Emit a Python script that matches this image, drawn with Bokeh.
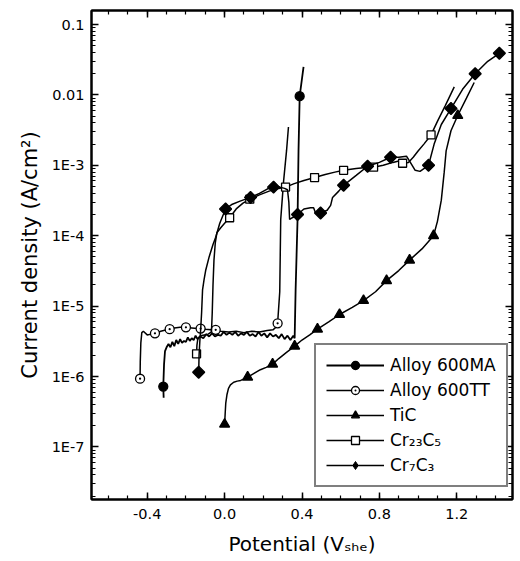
import numpy as np
from bokeh.plotting import figure
from bokeh.models import (FixedTicker, LinearAxis, LogAxis, CustomJSTickFormatter,
                          Legend, LegendItem)
from bokeh.embed import file_html
from bokeh.resources import INLINE

# ---------------- data (potential in V_SHE, current density in A/cm2) ----------------
names = ["Alloy 600MA", "Alloy 600TT", "TiC", "Cr\u2082\u2083C\u2085", "Cr\u2087C\u2083"]

ma_v = [-0.315, -0.317, -0.313, -0.308, -0.300, -0.290, -0.280, -0.270, -0.260, -0.250,
        -0.240, -0.230, -0.220, -0.210, -0.200, -0.190, -0.180, -0.170, -0.160, -0.150,
        -0.140, -0.125, -0.110, -0.095, -0.080, -0.065, -0.050, -0.035, -0.020, -0.005,
        0.010, 0.025, 0.040, 0.055, 0.070, 0.085, 0.100, 0.115, 0.130, 0.145,
        0.160, 0.175, 0.190, 0.205, 0.220, 0.235, 0.250, 0.265, 0.280, 0.295,
        0.310, 0.325, 0.340, 0.355, 0.362, 0.367, 0.377, 0.382, 0.388, 0.408]
ma_i = [5.0e-7, 7.2e-7, 1.5e-6, 2.3e-6, 2.6e-6, 2.9e-6, 2.6e-6, 3.1e-6, 2.7e-6, 3.3e-6,
        2.9e-6, 3.4e-6, 3.0e-6, 3.2e-6, 3.1e-6, 3.6e-6, 3.2e-6, 3.5e-6, 3.3e-6, 3.8e-6,
        3.4e-6, 3.7e-6, 3.5e-6, 4.0e-6, 3.7e-6, 4.1e-6, 3.7e-6, 3.9e-6, 3.8e-6, 4.3e-6,
        3.9e-6, 4.2e-6, 3.9e-6, 4.3e-6, 3.8e-6, 4.1e-6, 3.9e-6, 4.3e-6, 3.8e-6, 4.0e-6,
        3.7e-6, 4.3e-6, 3.8e-6, 4.1e-6, 3.6e-6, 4.1e-6, 3.7e-6, 3.9e-6, 3.5e-6, 4.0e-6,
        3.4e-6, 3.8e-6, 3.3e-6, 3.8e-6, 3.5e-6, 1.7e-5, 1.7e-4, 1.6e-3, 9.6e-3, 2.5e-2]
ma_marks = [-0.317, 0.388]

tt_v = [-0.437, -0.436, -0.433, -0.428, -0.420, -0.400, -0.380, -0.360, -0.330, -0.300,
        -0.284, -0.260, -0.230, -0.200, -0.170, -0.140, -0.124, -0.100, -0.070, -0.046,
        -0.020, 0.020, 0.060, 0.100, 0.140, 0.180, 0.220, 0.250, 0.265, 0.274,
        0.285, 0.290, 0.305, 0.320, 0.330]
tt_i = [9.3e-7, 1.6e-6, 3.0e-6, 4.2e-6, 4.4e-6, 3.9e-6, 4.0e-6, 4.1e-6, 4.4e-6, 4.6e-6,
        4.7e-6, 4.9e-6, 5.0e-6, 5.0e-6, 4.9e-6, 4.8e-6, 4.8e-6, 4.7e-6, 4.6e-6, 4.6e-6,
        4.4e-6, 4.3e-6, 4.4e-6, 4.2e-6, 4.4e-6, 4.3e-6, 4.5e-6, 4.6e-6, 5.0e-6, 5.7e-6,
        1.6e-5, 1.7e-4, 6.0e-4, 1.6e-3, 3.5e-3]
tt_marks = [-0.437, -0.360, -0.284, -0.200, -0.124, -0.046, 0.274]

tic_v = [0.000, 0.003, 0.006, 0.012, 0.020, 0.030, 0.047, 0.065, 0.083, 0.100,
         0.119, 0.150, 0.185, 0.215, 0.248, 0.280, 0.320, 0.362, 0.400, 0.440,
         0.480, 0.540, 0.594, 0.660, 0.718, 0.780, 0.837, 0.900, 0.956, 1.020,
         1.080, 1.100, 1.120, 1.135, 1.145, 1.170, 1.205, 1.250, 1.290]
tic_i = [2.1e-7, 3.0e-7, 4.2e-7, 5.5e-7, 6.8e-7, 7.6e-7, 8.3e-7, 8.6e-7, 8.8e-7, 9.2e-7,
         9.8e-7, 1.1e-6, 1.25e-6, 1.35e-6, 1.5e-6, 1.8e-6, 2.2e-6, 2.7e-6, 3.3e-6, 3.9e-6,
         4.7e-6, 6.0e-6, 7.6e-6, 9.6e-6, 1.2e-5, 1.6e-5, 2.3e-5, 3.2e-5, 4.5e-5, 6.5e-5,
         1.0e-4, 1.6e-4, 3.2e-4, 8.0e-4, 1.6e-3, 3.1e-3, 5.1e-3, 9.0e-3, 1.5e-2]
tic_marks = [0.000, 0.119, 0.248, 0.362, 0.480, 0.594, 0.718, 0.837, 0.956, 1.080, 1.205]

c23_v = [-0.145, -0.143, -0.138, -0.125, -0.105, -0.085, -0.068, -0.064, -0.060, -0.055,
         -0.048, -0.040, -0.020, 0.000, 0.026, 0.060, 0.095, 0.130, 0.180, 0.230,
         0.280, 0.315, 0.360, 0.410, 0.465, 0.520, 0.570, 0.615, 0.680, 0.730,
         0.770, 0.820, 0.870, 0.900, 0.920, 0.950, 0.975, 1.000, 1.030, 1.067,
         1.100, 1.140, 1.187]
c23_i = [2.1e-6, 2.8e-6, 3.5e-6, 3.8e-6, 3.9e-6, 4.0e-6, 4.3e-6, 8.0e-6, 2.0e-5, 4.5e-5,
         8.0e-5, 1.1e-4, 1.3e-4, 1.5e-4, 1.8e-4, 2.4e-4, 2.9e-4, 3.3e-4, 3.8e-4, 4.3e-4,
         4.7e-4, 4.9e-4, 5.5e-4, 6.1e-4, 6.7e-4, 7.4e-4, 8.0e-4, 8.5e-4, 9.0e-4, 9.3e-4,
         9.4e-4, 1.0e-3, 1.1e-3, 1.15e-3, 1.07e-3, 1.1e-3, 1.3e-3, 1.6e-3, 2.0e-3, 2.7e-3,
         4.2e-3, 7.0e-3, 1.3e-2]
c23_marks = [-0.145, 0.026, 0.130, 0.315, 0.465, 0.615, 0.770, 0.920, 1.067]

c7_v = [-0.134, -0.132, -0.128, -0.124, -0.119, -0.114, -0.106, -0.098, -0.080, -0.060,
        -0.046, -0.025, 0.005, 0.040, 0.080, 0.134, 0.180, 0.220, 0.253, 0.285,
        0.310, 0.325, 0.332, 0.336, 0.350, 0.377, 0.410, 0.444, 0.460, 0.470,
        0.496, 0.530, 0.548, 0.558, 0.590, 0.615, 0.680, 0.739, 0.800, 0.858,
        0.900, 0.940, 0.960, 0.985, 1.010, 1.054, 1.083, 1.120, 1.170, 1.230,
        1.295, 1.360, 1.420]
c7_i = [1.15e-6, 2.0e-6, 3.2e-6, 4.5e-6, 8.0e-6, 1.7e-5, 2.4e-5, 3.2e-5, 5.0e-5, 7.5e-5,
        9.5e-5, 1.5e-4, 2.4e-4, 2.8e-4, 3.1e-4, 3.5e-4, 4.0e-4, 4.6e-4, 4.9e-4, 4.9e-4,
        4.7e-4, 4.5e-4, 3.0e-4, 1.7e-4, 1.8e-4, 2.0e-4, 2.4e-4, 2.5e-4, 2.5e-4, 2.1e-4,
        2.1e-4, 2.3e-4, 2.7e-4, 3.5e-4, 4.3e-4, 5.2e-4, 7.2e-4, 9.7e-4, 1.1e-3, 1.3e-3,
        1.3e-3, 1.35e-3, 1.1e-3, 8.5e-4, 8.2e-4, 1.0e-3, 2.0e-3, 3.8e-3, 6.4e-3, 1.2e-2,
        2.0e-2, 3.0e-2, 3.9e-2]
c7_marks = [-0.134, 0.005, 0.134, 0.253, 0.377, 0.496, 0.615, 0.739, 0.858, 1.054,
            1.170, 1.295, 1.420]

x_ticks = [-0.4, 0.0, 0.4, 0.8, 1.2]
x_tick_labels = ["-0.4", "0.0", "0.4", "0.8", "1.2"]
y_ticks = [1e-7, 1e-6, 1e-5, 1e-4, 1e-3, 1e-2, 1e-1]
y_tick_labels = ["1E-7", "1E-6", "1E-5", "1E-4", "1E-3", "0.01", "0.1"]
x_title = "Potential (V\u209b\u2095\u2091)"
y_title = "Current density (A/cm\u00b2)"

# ---------------- figure ----------------
FONT = "DejaVu Sans"
p = figure(width=520, height=561, x_range=(-0.688, 1.488),
           y_range=(10 ** -7.747, 10 ** -0.801), y_axis_type="log",
           output_backend="svg", toolbar_location=None,
           min_border_left=91, min_border_right=8, min_border_top=10, min_border_bottom=62)
p.xgrid.visible = False
p.ygrid.visible = False
p.outline_line_color = "black"
p.outline_line_width = 2
p.background_fill_color = "white"
p.border_fill_color = "white"

x_minor = [round(v, 2) for v in np.arange(-0.7, 1.51, 0.1)]
y_minor = [m * 10.0 ** k for k in range(-8, 0) for m in range(2, 10)]
xt = FixedTicker(ticks=x_ticks, minor_ticks=x_minor)
yt = FixedTicker(ticks=y_ticks, minor_ticks=y_minor)

x_fmt = CustomJSTickFormatter(args=dict(vals=x_ticks, labs=x_tick_labels), code="""
let b = 0, bd = Infinity;
for (let i = 0; i < vals.length; i++) { const d = Math.abs(vals[i] - tick); if (d < bd) { bd = d; b = i; } }
return labs[b];
""")
y_fmt = CustomJSTickFormatter(args=dict(vals=y_ticks, labs=y_tick_labels), code="""
let b = 0, bd = Infinity;
for (let i = 0; i < vals.length; i++) { const d = Math.abs(Math.log10(vals[i]) - Math.log10(tick)); if (d < bd) { bd = d; b = i; } }
return labs[b];
""")
blank = CustomJSTickFormatter(code="return '';")

def style_axis(ax, labels=True):
    ax.axis_line_color = "black"
    ax.axis_line_width = 2
    ax.major_tick_in = 7
    ax.major_tick_out = 0
    ax.minor_tick_in = 4
    ax.minor_tick_out = 0
    ax.major_tick_line_width = 1.5
    ax.minor_tick_line_width = 1.2
    ax.major_tick_line_color = "black"
    ax.minor_tick_line_color = "black"
    if labels:
        ax.major_label_text_font = FONT
        ax.major_label_text_font_size = "14.5px"
        ax.major_label_text_color = "black"
        ax.axis_label_text_font = FONT
        ax.axis_label_text_font_style = "normal"
        ax.axis_label_text_color = "black"
    else:
        ax.major_label_text_font_size = "1px"
        ax.major_label_standoff = 0

p.xaxis.ticker = xt
p.xaxis.formatter = x_fmt
p.yaxis.ticker = yt
p.yaxis.formatter = y_fmt
style_axis(p.xaxis[0])
style_axis(p.yaxis[0])
p.xaxis.major_label_standoff = 9
p.yaxis.major_label_standoff = 7
p.xaxis.axis_label = x_title
p.yaxis.axis_label = y_title
p.xaxis.axis_label_text_font_size = "20px"
p.yaxis.axis_label_text_font_size = "21px"
p.xaxis.axis_label_standoff = 10
p.yaxis.axis_label_standoff = 7

top_ax = LinearAxis(ticker=xt, formatter=blank)
style_axis(top_ax, labels=False)
right_ax = LogAxis(ticker=yt, formatter=blank)
style_axis(right_ax, labels=False)
p.add_layout(top_ax, "above")
p.add_layout(right_ax, "right")

# ---------------- series ----------------
def add_series(v, i, marks, marker, fill, size, lw=1.5, angle=0.0):
    ln = p.line(v, i, line_color="black", line_width=lw)
    idx = [v.index(m) for m in marks]
    sc = p.scatter([v[k] for k in idx], [i[k] for k in idx], marker=marker, size=size,
                   angle=angle, fill_color=fill, line_color="black", line_width=1.3)
    return ln, sc

r_ma = add_series(ma_v, ma_i, ma_marks, "circle", "black", 9, lw=1.8)
r_tt = add_series(tt_v, tt_i, tt_marks, "circle_dot", "white", 9)
r_tic = add_series(tic_v, tic_i, tic_marks, "triangle", "black", 10)
r_c23 = add_series(c23_v, c23_i, c23_marks, "square", "white", 8)
r_c7 = add_series(c7_v, c7_i, c7_marks, "square", "black", 8.5, angle=np.pi / 4)
# legend-only glyph for the diamond symbol (a single NaN point, never drawn in the frame)
c7_key = p.scatter([np.nan], [np.nan], marker="diamond", size=13,
                   fill_color="black", line_color="black")

items = [LegendItem(label=n, renderers=list(r)) for n, r in
         zip(names, [r_ma, r_tt, r_tic, r_c23, (r_c7[0], c7_key)])]
legend = Legend(items=items, location=(223, 12))
legend.label_text_font = FONT
legend.label_text_font_size = "17px"
legend.label_text_color = "black"
legend.glyph_width = 58
legend.glyph_height = 20
legend.label_height = 20
legend.label_standoff = 6
legend.spacing = 5
legend.padding = 10
legend.margin = 0
legend.border_line_color = "black"
legend.border_line_width = 2
legend.background_fill_color = "white"
legend.background_fill_alpha = 1.0
p.add_layout(legend, "center")

open("out.html", "w").write(file_html(p, INLINE))
